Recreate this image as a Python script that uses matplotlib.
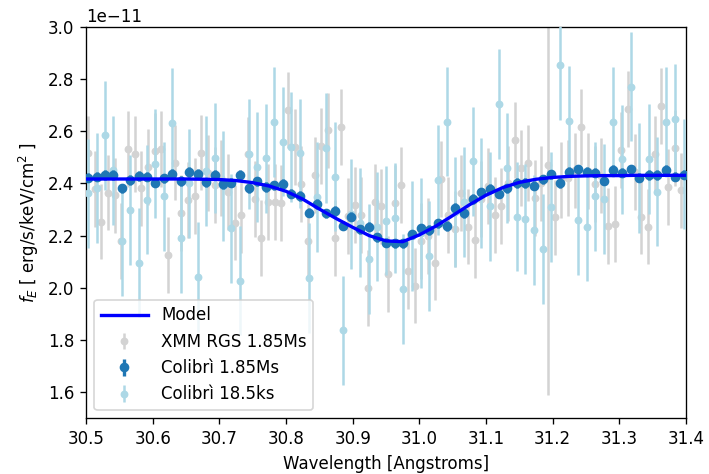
import numpy as np
import matplotlib
matplotlib.use("Agg")
import matplotlib.pyplot as plt

# wavelength grids (Angstrom)
colibri_wave = [30.503, 30.516, 30.528, 30.541, 30.554, 30.566, 30.579, 30.591, 30.604, 30.617,
                30.629, 30.642, 30.655, 30.668, 30.680, 30.693, 30.706, 30.718, 30.731, 30.744,
                30.757, 30.770, 30.782, 30.795, 30.808, 30.821, 30.834, 30.847, 30.860, 30.873,
                30.885, 30.898, 30.911, 30.924, 30.937, 30.950, 30.963, 30.976, 30.989, 31.002,
                31.015, 31.028, 31.041, 31.054, 31.067, 31.080, 31.093, 31.106, 31.119, 31.132,
                31.146, 31.159, 31.172, 31.185, 31.198, 31.211, 31.225, 31.238, 31.251, 31.264,
                31.277, 31.291, 31.304, 31.317, 31.330, 31.344, 31.357, 31.370, 31.384, 31.397]

xmm_wave = [30.503, 30.513, 30.523, 30.533, 30.543, 30.553, 30.563, 30.573, 30.583, 30.593,
            30.603, 30.613, 30.623, 30.633, 30.643, 30.653, 30.663, 30.673, 30.683, 30.693,
            30.703, 30.713, 30.723, 30.733, 30.743, 30.753, 30.763, 30.773, 30.783, 30.793,
            30.803, 30.813, 30.823, 30.833, 30.843, 30.853, 30.863, 30.873, 30.883, 30.893,
            30.903, 30.913, 30.923, 30.933, 30.943, 30.953, 30.963, 30.973, 30.983, 30.993,
            31.003, 31.013, 31.023, 31.033, 31.043, 31.053, 31.063, 31.073, 31.083, 31.093,
            31.103, 31.113, 31.123, 31.133, 31.143, 31.153, 31.163, 31.173, 31.183, 31.193,
            31.203, 31.213, 31.223, 31.233, 31.243, 31.253, 31.263, 31.273, 31.283, 31.293,
            31.303, 31.313, 31.323, 31.333, 31.343, 31.353, 31.363, 31.373, 31.383, 31.393]

# fluxes in units of 1e-11 erg/s/keV/cm^2
xmm_flux = [2.515, 2.38, 2.254, 2.365, 2.354, 2.180, 2.533, 2.513, 2.381, 2.464,
            2.526, 2.532, 2.126, 2.48, 2.288, 2.338, 2.351, 2.518, 2.44, 2.393,
            2.42, 2.367, 2.25, 2.278, 2.511, 2.34, 2.190, 2.328, 2.330, 2.326,
            2.681, 2.54, 2.398, 2.178, 2.432, 2.542, 2.603, 2.190, 2.615, 2.276,
            2.317, 2.28, 1.999, 2.330, 2.312, 2.054, 2.327, 2.395, 2.065, 2.009,
            2.179, 2.20, 2.097, 2.417, 2.279, 2.225, 2.363, 2.235, 2.183, 2.34,
            2.39, 2.279, 2.314, 2.40, 2.565, 2.458, 2.478, 2.343, 2.40, 2.471,
            2.270, 2.413, 2.42, 2.45, 2.617, 2.449, 2.398, 2.43, 2.236, 2.245,
            2.528, 2.684, 2.444, 2.273, 2.235, 2.514, 2.697, 2.385, 2.535, 2.373]
xmm_err = np.full(len(xmm_flux), 0.145)
xmm_err[69] = 0.88

long_flux = [2.422, 2.426, 2.432, 2.432, 2.381, 2.413, 2.429, 2.426, 2.403, 2.420,
             2.436, 2.410, 2.444, 2.436, 2.404, 2.433, 2.398, 2.403, 2.433, 2.381,
             2.408, 2.387, 2.393, 2.398, 2.361, 2.352, 2.288, 2.321, 2.286, 2.295,
             2.238, 2.273, 2.224, 2.235, 2.194, 2.173, 2.171, 2.171, 2.205, 2.228,
             2.222, 2.247, 2.237, 2.306, 2.287, 2.341, 2.366, 2.380, 2.361, 2.381,
             2.401, 2.401, 2.391, 2.416, 2.435, 2.401, 2.445, 2.454, 2.445, 2.441,
             2.411, 2.453, 2.441, 2.454, 2.422, 2.432, 2.432, 2.453, 2.426, 2.434]
long_err = 0.018

short_flux = [2.362, 2.383, 2.584, 2.45, 2.180, 2.298, 2.097, 2.338, 2.476, 2.350,
              2.633, 2.190, 2.40, 2.043, 2.448, 2.497, 2.39, 2.228, 2.028, 2.513,
              2.464, 2.496, 2.635, 2.560, 2.539, 2.515, 2.037, 2.347, 2.535, 2.426,
              1.837, 2.282, 2.250, 2.112, 2.235, 2.258, 2.268, 1.995, 2.20, 2.21,
              2.123, 2.413, 2.637, 2.29, 2.330, 2.484, 2.364, 2.312, 2.703, 2.458,
              2.273, 2.263, 2.221, 2.148, 2.309, 2.853, 2.639, 2.260, 2.235, 2.350,
              2.340, 2.634, 2.492, 2.771, 2.42, 2.494, 2.369, 2.636, 2.647, 2.436]
short_err = 0.21

model_wave = [30.500, 30.525, 30.550, 30.575, 30.600, 30.625, 30.650, 30.675, 30.700, 30.725,
              30.750, 30.775, 30.800, 30.825, 30.850, 30.875, 30.900, 30.925, 30.950, 30.975,
              31.000, 31.025, 31.050, 31.075, 31.100, 31.125, 31.150, 31.175, 31.200, 31.225,
              31.250, 31.275, 31.300, 31.325, 31.350, 31.375, 31.400]
model_flux = [2.417, 2.417, 2.417, 2.417, 2.417, 2.417, 2.417, 2.416, 2.415, 2.411,
              2.403, 2.390, 2.370, 2.340, 2.302, 2.266, 2.232, 2.200, 2.180, 2.177,
              2.203, 2.237, 2.277, 2.318, 2.355, 2.384, 2.404, 2.416, 2.423, 2.427,
              2.429, 2.430, 2.430, 2.431, 2.431, 2.431, 2.431]

scale = 1e-11

fig = plt.figure(figsize=(709 / 120, 474 / 120), dpi=120)
ax = fig.add_axes([0.1213, 0.1171, 0.8463, 0.8265])

ax.plot(model_wave, np.array(model_flux) * scale, color='blue', lw=2, label='Model', zorder=5)
ax.errorbar(xmm_wave, np.array(xmm_flux) * scale, yerr=xmm_err * scale, fmt='o',
            color='lightgray', ms=3.7, label='XMM RGS 1.85Ms', zorder=2)
ax.errorbar(colibri_wave, np.array(long_flux) * scale, yerr=long_err * scale, fmt='o',
            color='#1f77b4', ms=4.8, elinewidth=2, label='Colibrì 1.85Ms', zorder=4)
ax.errorbar(colibri_wave, np.array(short_flux) * scale, yerr=short_err * scale, fmt='o',
            color='lightblue', ms=3.7, label='Colibrì 18.5ks', zorder=3)

ax.set_xlim(30.5, 31.4)
ax.set_ylim(1.5e-11, 3.0e-11)
ax.set_xticks([30.5, 30.6, 30.7, 30.8, 30.9, 31.0, 31.1, 31.2, 31.3, 31.4])
ax.set_yticks(np.array([1.6, 1.8, 2.0, 2.2, 2.4, 2.6, 2.8, 3.0]) * scale)
ax.set_xlabel('Wavelength [Angstroms]')
ax.set_ylabel('$f_E$ [ erg/s/keV/cm$^2$ ]')
ax.legend(loc='lower left', handlelength=2.8)

fig.savefig('out.png', dpi=120)
